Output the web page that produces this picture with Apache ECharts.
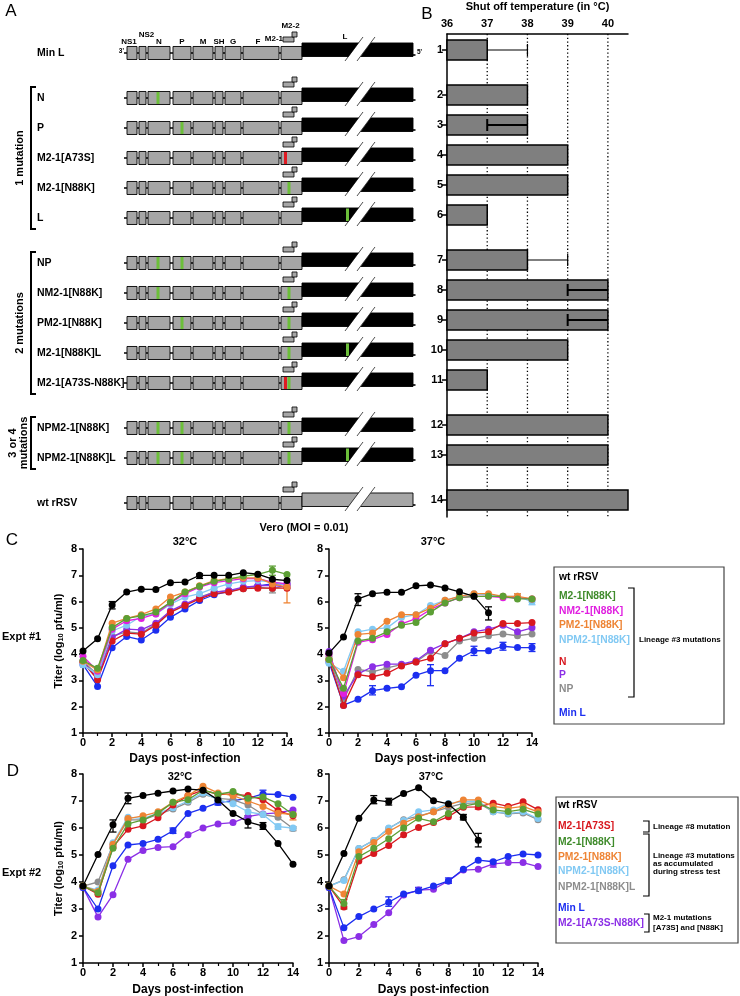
<!DOCTYPE html>
<html><head><meta charset="utf-8">
<script src="https://cdn.jsdelivr.net/npm/echarts@6/dist/echarts.min.js"></script>
<style>html,body{margin:0;padding:0;background:#fff}#c{width:740px;height:996px}</style>
</head><body><div id="c"></div>
<script>
const FF = '"Liberation Sans", Arial, Helvetica, sans-serif';

// ---------- Panel A / B data ----------
const rowNames = ['Min L','N','P','M2-1[A73S]','M2-1[N88K]','L','NP','NM2-1[N88K]','PM2-1[N88K]','M2-1[N88K]L','M2-1[A73S-N88K]','NPM2-1[N88K]','NPM2-1[N88K]L','wt rRSV'];
const rowLabels = ['1','2','3','4','5','6','7','8','9','10','11','12','13','14'];
const rowPos = [0,1.5,2.5,3.5,4.5,5.5,7,8,9,10,11,12.5,13.5,15];
const geneNames = ['NS1','NS2','N','P','M','SH','G','F','M2'];
const geneStart = [127,139,148,173,193,215,225,243,281];
const geneEnd   = [137,146,170,191,213,223,241,279,302];
const geneL = [302,413];
const lBreakAt = 345;
const m2OrfStart = [283,292];
const m2OrfEnd = [294,297];
const mutSiteNames = ['N','P','A73S','N88K','L'];
const mutSites = [158,182,285.5,289,347.5];
const rowMuts = [[],['N'],['P'],['A73S'],['N88K'],['L'],['N','P'],['N','N88K'],['P','N88K'],['N88K','L'],['A73S','N88K'],['N','P','N88K'],['N','P','N88K','L'],[]];
const shutOff = [37,38,38,39,39,37,38,40,40,39,37,40,40,40.5];
const shutOffErr = [[0,37,38],[2,38,37],[6,38,39],[7,40,39],[8,40,39]]; // row, from, to(cap)
const tempTicks = [36,37,38,39,40];
const tempGrid = [37,38,39,40];

// ---------- Panel C/D data ----------
const days = [0,1,2,3,4,5,6,7,8,9,10,11,12,13,14];
// Expt 1, 32C
const c1Wt    = [4.12,4.59,5.87,6.36,6.47,6.46,6.72,6.74,7.0,7.0,7.0,7.1,7.04,6.85,6.8];
const c1M2    = [3.76,3.46,5.01,5.36,5.46,5.6,5.97,6.36,6.58,6.77,6.85,6.97,7.03,7.19,7.03];
const c1NM2   = [3.92,3.35,4.95,5.27,5.36,5.53,5.95,6.3,6.55,6.72,6.8,6.87,6.87,6.74,6.67];
const c1PM2   = [3.73,3.4,5.18,5.36,5.5,5.72,6.17,6.36,6.6,6.8,6.87,6.9,6.9,6.67,6.55];
const c1NPM2  = [3.6,3.22,4.88,5.1,5.44,5.53,5.9,6.17,6.3,6.51,6.67,6.77,6.8,6.74,6.65];
const c1N     = [3.69,3.03,4.5,4.8,4.76,5.1,5.59,5.85,6.1,6.3,6.36,6.49,6.51,6.51,6.51];
const c1P     = [3.73,3.09,4.63,4.95,4.92,5.18,5.65,5.91,6.13,6.36,6.42,6.55,6.6,6.62,6.55];
const c1NP    = [3.73,3.22,4.69,4.85,4.8,5.14,5.62,5.87,6.17,6.36,6.42,6.49,6.55,6.49,6.62];
const c1MinL  = [3.6,2.77,4.24,4.67,4.54,4.91,5.4,5.72,6.04,6.26,6.38,6.51,6.6,6.67,6.67];
// Expt 1, 37C
const c2Wt    = [4.04,4.65,6.1,6.3,6.35,6.35,6.6,6.63,6.52,6.37,6.2,5.57];
const c2M2    = [3.8,2.7,4.5,4.6,4.85,5.1,5.2,5.6,5.95,6.15,6.2,6.2,6.2,6.1,6.1];
const c2NM2   = [4.0,2.5,4.45,4.55,4.75,5.15,5.35,5.7,5.95,6.15,6.2,6.2,6.15,6.15,6.1];
const c2PM2   = [3.8,3.1,4.75,4.8,5.25,5.5,5.5,5.75,6.05,6.2,6.3,6.3,6.2,6.2,6.1];
const c2NPM2  = [3.65,3.35,4.85,4.95,5.0,5.4,5.5,5.85,6.05,6.2,6.3,6.25,6.2,6.2,6.0];
const c2N     = [3.8,2.05,3.22,3.14,3.27,3.55,3.7,3.84,4.4,4.6,4.8,4.85,5.17,5.17,5.2];
const c2P     = [4.1,2.4,3.25,3.52,3.62,3.62,3.75,4.15,4.4,4.6,4.85,4.95,5.1,4.85,5.0];
const c2NP    = [3.9,2.25,3.42,3.33,3.48,3.6,3.7,4.1,3.95,4.5,4.6,4.7,4.77,4.7,4.77];
const c2MinL  = [3.7,2.06,2.28,2.61,2.7,2.76,3.2,3.37,3.37,3.84,4.13,4.13,4.3,4.25,4.25];
// Expt 2, 32C
const d1Wt    = [3.85,5.02,6.12,7.1,7.2,7.29,7.37,7.44,7.4,7.04,6.54,6.23,6.07,5.43,4.66];
const d1A73S  = [3.85,3.55,5.3,5.95,6.08,6.38,6.85,7.2,7.4,7.25,7.25,7.2,7.05,6.65,6.45];
const d1M2    = [3.85,3.6,5.25,6.15,6.3,6.55,6.95,7.05,7.4,7.25,7.35,7.1,7.15,6.9,6.5];
const d1PM2   = [3.85,3.65,5.4,6.35,6.45,6.6,6.95,7.2,7.55,7.3,7.2,7.0,6.8,6.55,6.5];
const d1NPM2  = [3.85,3.7,5.45,6.4,6.35,6.55,6.75,7.0,7.3,7.05,6.9,6.6,6.5,6.05,6.0];
const d1NPM2L = [3.85,4.0,5.4,6.3,6.3,6.5,6.7,6.95,7.25,7.1,7.05,6.85,6.5,6.4,5.98];
const d1MinL  = [3.8,3.0,4.6,5.37,5.43,5.58,5.9,6.54,6.73,6.94,7.01,7.1,7.26,7.24,7.14];
const d1AN    = [3.8,2.7,3.53,4.84,5.17,5.28,5.31,5.75,6.0,6.15,6.2,6.42,6.52,6.56,6.67];
// Expt 2, 37C
const d2Wt    = [3.85,5.06,6.36,7.04,6.97,7.28,7.49,7.01,6.89,6.4,5.55];
const d2A73S  = [3.85,3.07,4.78,5.06,5.35,5.75,6.02,6.2,6.42,6.77,6.78,6.92,6.8,6.97,6.68];
const d2M2    = [3.85,3.2,4.94,5.25,5.6,6.0,6.36,6.23,6.54,6.81,6.91,6.67,6.61,6.69,6.52];
const d2PM2   = [3.85,3.56,5.12,5.46,5.87,6.18,6.42,6.6,6.86,7.04,7.04,6.8,6.73,6.8,6.6];
const d2NPM2  = [3.85,4.06,5.24,5.54,6.0,6.28,6.6,6.67,6.91,6.98,7.0,6.6,6.54,6.6,6.35];
const d2NPM2L = [3.85,4.08,5.24,5.54,5.98,6.31,6.44,6.6,6.76,6.91,6.93,6.6,6.52,6.56,6.31];
const d2MinL  = [3.8,2.31,2.72,3.0,3.25,3.56,3.68,3.85,4.04,4.47,4.81,4.75,4.94,5.04,5.0];
const d2AN    = [3.8,1.83,1.98,2.43,2.86,3.52,3.7,3.73,4.04,4.44,4.47,4.67,4.72,4.72,4.57];
// error bars: [colourKey, day, low, high]
const errC1 = [['wt',2,5.72,6.0],['wt',8,6.88,7.05],['green',13,7.0,7.35],['orange',14,5.95,6.62],['gray',13,6.33,6.6]];
const errC2 = [['wt',2,5.85,6.3],['wt',11,5.3,5.8],['blue',3,2.45,2.8],['blue',7,2.8,3.6],['blue',10,3.95,4.3],['blue',12,4.15,4.45],['blue',14,4.1,4.4],['orange',7,5.65,5.85],['lblue',14,5.88,6.1],['orange',13,6.1,6.3]];
const errD1 = [['wt',2,5.85,6.3],['wt',3,6.9,7.3],['wt',11,6.0,6.45],['wt',12,5.95,6.2],['blue',12,7.1,7.4],['blue',9,6.85,7.02],['blue',6,5.8,6.0],['lblue',13,5.95,6.15],['orange',14,6.3,6.55],['gray',14,5.9,6.05]];
const errD2 = [['wt',3,6.9,7.2],['wt',4,6.85,7.1],['wt',9,6.3,6.5],['wt',10,5.3,5.8],['green',1,3.0,3.35],['blue',4,3.1,3.45],['blue',6,3.6,3.8],['blue',8,3.95,4.15],['purple',11,4.55,4.8],['red',10,6.7,6.9]];

// ---------- colours ----------
const COL = {wt:'#000000', green:'#5c9f35', magenta:'#e01fe0', orange:'#ee8434', lblue:'#82c9f3', red:'#d8181f', purple:'#8b2fe6', gray:'#8d8d8d', blue:'#1c2ef0'};
const colKeys = Object.keys(COL);
const GENE_FILL = '#a6a6a6', BAR_FILL = '#7f7f7f', MUT_GREEN = '#6cbf3a', MUT_RED = '#df1a22';

const seriesC1 = [['Min L','blue',c1MinL],['NP','gray',c1NP],['P','purple',c1P],['N','red',c1N],['NPM2-1[N88K]','lblue',c1NPM2],['NM2-1[N88K]','magenta',c1NM2],['PM2-1[N88K]','orange',c1PM2],['M2-1[N88K]','green',c1M2],['wt rRSV','wt',c1Wt]];
const seriesC2 = [['Min L','blue',c2MinL],['NP','gray',c2NP],['P','purple',c2P],['N','red',c2N],['NPM2-1[N88K]','lblue',c2NPM2],['NM2-1[N88K]','magenta',c2NM2],['PM2-1[N88K]','orange',c2PM2],['M2-1[N88K]','green',c2M2],['wt rRSV','wt',c2Wt]];
const seriesD1 = [['M2-1[A73S-N88K]','purple',d1AN],['Min L','blue',d1MinL],['NPM2-1[N88K]L','gray',d1NPM2L],['NPM2-1[N88K]','lblue',d1NPM2],['M2-1[A73S]','red',d1A73S],['PM2-1[N88K]','orange',d1PM2],['M2-1[N88K]','green',d1M2],['wt rRSV','wt',d1Wt]];
const seriesD2 = [['M2-1[A73S-N88K]','purple',d2AN],['Min L','blue',d2MinL],['NPM2-1[N88K]L','gray',d2NPM2L],['NPM2-1[N88K]','lblue',d2NPM2],['M2-1[A73S]','red',d2A73S],['PM2-1[N88K]','orange',d2PM2],['M2-1[N88K]','green',d2M2],['wt rRSV','wt',d2Wt]];

const legendC = [['wt rRSV','wt'],['M2-1[N88K]','green'],['NM2-1[N88K]','magenta'],['PM2-1[N88K]','orange'],['NPM2-1[N88K]','lblue'],['N','red'],['P','purple'],['NP','gray'],['Min L','blue']];
const legendD = [['wt rRSV','wt'],['M2-1[A73S]','red'],['M2-1[N88K]','green'],['PM2-1[N88K]','orange'],['NPM2-1[N88K]','lblue'],['NPM2-1[N88K]L','gray'],['Min L','blue'],['M2-1[A73S-N88K]','purple']];
const legendTextCol = {green:'#3f8b2b'};

// ---------- layout ----------
const AB = {top:34, height:483, min:-0.5333, max:15.5667};
const rowY = p => AB.top + (p - AB.min) / (AB.max - AB.min) * AB.height;
const gridsTS = [
  {left:83, top:549, width:204, height:184},
  {left:329, top:549, width:203, height:184},
  {left:83, top:774, width:210, height:189},
  {left:329, top:774, width:209, height:189}
];

// ---------- renderers ----------
function renderGene(params, api) {
  const pos = api.value(1), r = api.value(2);
  const X = v => api.coord([v, pos])[0];
  const yc = api.coord([geneStart[0], pos])[1];
  const gy = yc + 3;
  const ch = [];
  const isWt = rowNames[r] === 'wt rRSV';
  ch.push({type:'line', shape:{x1:X(geneStart[0]-3), y1:gy, x2:X(geneL[0]), y2:gy}, style:{stroke:'#000', lineWidth:1.6}});
  ch.push({type:'line', shape:{x1:X(geneL[1]-1), y1:yc+5, x2:X(geneL[1]+2.5), y2:yc+5}, style:{stroke:'#000', lineWidth:1.6}});
  for (let i = 0; i < geneNames.length; i++) {
    ch.push({type:'rect', shape:{x:X(geneStart[i]), y:gy-6.5, width:X(geneEnd[i])-X(geneStart[i]), height:13}, style:{fill:GENE_FILL, stroke:'#000', lineWidth:0.9}});
  }
  ch.push({type:'rect', shape:{x:X(m2OrfStart[0]), y:yc-13, width:X(m2OrfEnd[0])-X(m2OrfStart[0]), height:5}, style:{fill:GENE_FILL, stroke:'#000', lineWidth:0.8}});
  ch.push({type:'rect', shape:{x:X(m2OrfStart[1]), y:yc-18, width:X(m2OrfEnd[1])-X(m2OrfStart[1]), height:5}, style:{fill:GENE_FILL, stroke:'#000', lineWidth:0.8}});
  ch.push({type:'rect', shape:{x:X(geneL[0]), y:yc-7, width:X(geneL[1])-X(geneL[0]), height:13.5}, style:{fill:isWt?GENE_FILL:'#000', stroke:'#000', lineWidth:0.9}});
  rowMuts[r].forEach(m => {
    const s = mutSites[mutSiteNames.indexOf(m)];
    const inL = m === 'L';
    ch.push({type:'rect', shape:{x:X(s)-1.5, y:inL?yc-6.5:gy-6, width:3, height:inL?12.5:12}, style:{fill: m==='A73S'?MUT_RED:MUT_GREEN}});
  });
  const b = X(lBreakAt), k = 0.75;
  ch.push({type:'polygon', shape:{points:[[b+5*k-0.8, yc+7.5],[b+12+5*k-0.8, yc+7.5],[b+12+18*k+0.8, yc-8],[b+18*k+0.8, yc-8]]}, style:{fill:'#fff'}});
  ch.push({type:'line', shape:{x1:b, y1:yc+11, x2:b+24*k, y2:yc-13}, style:{stroke:'#000', lineWidth:0.7}});
  ch.push({type:'line', shape:{x1:b+12, y1:yc+11, x2:b+12+24*k, y2:yc-13}, style:{stroke:'#000', lineWidth:0.7}});
  ch.push({type:'text', style:{text:rowNames[r], x:37, y:gy, fill:'#000', font:'bold 10.5px '+FF, verticalAlign:'middle', align:'left'}});
  if (r === 0) {
    const lf = 'bold 8px '+FF;
    const lab = (t, x, y, al) => ch.push({type:'text', style:{text:t, x, y, fill:'#000', font:lf, align:al||'center', verticalAlign:'middle'}});
    for (let i = 0; i < geneNames.length - 1; i++) {
      const cx = (X(geneStart[i]) + X(geneEnd[i])) / 2;
      const dx = geneNames[i]==='NS1' ? -3 : geneNames[i]==='NS2' ? 4 : geneNames[i]==='F' ? -3 : 0;
      lab(geneNames[i], cx + dx, geneNames[i]==='NS2' ? yc-15 : yc-8);
    }
    lab('M2-1', X(m2OrfStart[0]), yc-11, 'right');
    lab('M2-2', (X(m2OrfStart[1])+X(m2OrfEnd[1]))/2 - 4, yc-24);
    lab('L', X(lBreakAt), yc-13);
    ch.push({type:'text', style:{text:"3'", x:X(geneStart[0])-3, y:yc+1, fill:'#000', font:'bold 6.5px '+FF, align:'right', verticalAlign:'middle'}});
    ch.push({type:'text', style:{text:"5'", x:X(geneL[1])+4, y:yc+2, fill:'#000', font:'bold 6.5px '+FF, align:'left', verticalAlign:'middle'}});
  }
  return {type:'group', children:ch};
}

function renderBar(params, api) {
  const pos = api.value(0), val = api.value(1);
  const a = api.coord([tempTicks[0], pos]), b = api.coord([val, pos]);
  return {type:'rect', shape:{x:a[0], y:a[1]-10, width:b[0]-a[0], height:20}, style:{fill:BAR_FILL, stroke:'#000', lineWidth:1.5}};
}
function renderBarErr(params, api) {
  const pos = api.value(0), from = api.value(1), to = api.value(2);
  const a = api.coord([from, pos]), b = api.coord([to, pos]);
  const inside = to < from;
  const lw = inside ? 2 : 1.2;
  return {type:'group', children:[
    {type:'line', shape:{x1:a[0], y1:a[1], x2:b[0], y2:b[1]}, style:{stroke:'#000', lineWidth:lw}},
    {type:'line', shape:{x1:b[0], y1:b[1]-6, x2:b[0], y2:b[1]+6}, style:{stroke:'#000', lineWidth:lw}}
  ]};
}
function renderVGrid(params, api) {
  const t = api.value(0);
  const p1 = api.coord([t, AB.min]), p2 = api.coord([t, AB.max]);
  return {type:'line', shape:{x1:p1[0], y1:p1[1], x2:p2[0], y2:p2[1]}, style:{stroke:'#000', lineWidth:1.3, lineDash:[1.3,2.4]}};
}
function renderErr(params, api) {
  const x = api.value(0), lo = api.value(1), hi = api.value(2), c = COL[colKeys[api.value(3)]];
  const p1 = api.coord([x, lo]), p2 = api.coord([x, hi]), w = 3.5;
  const st = {stroke:c, lineWidth:1.3};
  return {type:'group', children:[
    {type:'line', shape:{x1:p1[0], y1:p1[1], x2:p2[0], y2:p2[1]}, style:st},
    {type:'line', shape:{x1:p1[0]-w, y1:p1[1], x2:p1[0]+w, y2:p1[1]}, style:st},
    {type:'line', shape:{x1:p2[0]-w, y1:p2[1], x2:p2[0]+w, y2:p2[1]}, style:st}
  ]};
}

// ---------- axes ----------
const axisLineBlack = {show:true, onZero:false, lineStyle:{color:'#000', width:1.5}};
const labBold = {color:'#000', fontWeight:'bold', fontSize:11, fontFamily:FF};
const grids = [
  {left:110, top:AB.top, width:310, height:AB.height},
  {left:447, top:AB.top, width:181, height:AB.height}
].concat(gridsTS).map(g => Object.assign({containLabel:false, outerBoundsMode:'none'}, g));

const xAxes = [
  {gridIndex:0, type:'value', min:110, max:420, show:false},
  {gridIndex:1, type:'value', position:'top', min:36, max:40.5,
   axisLine:axisLineBlack, axisTick:{show:false}, splitLine:{show:false},
   axisLabel:Object.assign({customValues:tempTicks, margin:5}, labBold),
   name:'Shut off temperature (in °C)', nameLocation:'middle', nameGap:22,
   nameTextStyle:{color:'#000', fontWeight:'bold', fontSize:11, fontFamily:FF}}
];
const yAxes = [
  {gridIndex:0, type:'value', inverse:true, min:AB.min, max:AB.max, show:false},
  {gridIndex:1, type:'value', inverse:true, min:AB.min, max:AB.max,
   axisLine:axisLineBlack, splitLine:{show:false},
   axisTick:{show:true, customValues:rowPos, length:5, lineStyle:{color:'#000', width:1.5}},
   axisLabel:Object.assign({customValues:rowPos, margin:4, formatter: v => rowLabels[rowPos.indexOf(v)] || ''}, labBold)}
];
gridsTS.forEach((g, i) => {
  const gi = i + 2;
  xAxes.push({gridIndex:gi, type:'value', min:0, max:14, interval:2,
    axisLine:axisLineBlack, splitLine:{show:false},
    axisTick:{show:true, length:4, lineStyle:{color:'#000', width:1.5}},
    minorTick:{show:true, splitNumber:2, length:3, lineStyle:{color:'#000', width:1.2}},
    axisLabel:Object.assign({margin:4}, labBold),
    name:'Days post-infection', nameLocation:'middle', nameGap: i < 2 ? 20 : 21,
    nameTextStyle:{color:'#000', fontWeight:'bold', fontSize:12, fontFamily:FF}});
  const ya = {gridIndex:gi, type:'value', min:1, max:8, interval:1,
    axisLine:axisLineBlack, splitLine:{show:false},
    axisTick:{show:true, length:4, lineStyle:{color:'#000', width:1.5}},
    axisLabel:Object.assign({margin:6}, labBold)};
  if (i % 2 === 0) {
    ya.name = 'Titer (log{s|10} pfu/ml)';
    ya.nameLocation = 'middle'; ya.nameGap = 18; ya.nameRotate = 90;
    ya.nameTextStyle = {color:'#000', fontWeight:'bold', fontSize:11, fontFamily:FF,
      rich:{s:{fontSize:7.5, fontWeight:'bold', fontFamily:FF, color:'#000', padding:[5,0,0,0]}}};
  }
  yAxes.push(ya);
});

// ---------- series ----------
const series = [];
series.push({type:'custom', xAxisIndex:1, yAxisIndex:1, renderItem:renderVGrid, data:tempGrid.map(t => [t, 0]), encode:{x:0, y:1}, z:1, silent:true});
series.push({type:'custom', xAxisIndex:0, yAxisIndex:0, renderItem:renderGene, data:rowPos.map((p, i) => [geneStart[0], p, i]), encode:{x:0, y:1}, z:2, silent:true});
series.push({type:'custom', xAxisIndex:1, yAxisIndex:1, renderItem:renderBar, data:shutOff.map((v, i) => [rowPos[i], v]), encode:{x:1, y:0}, z:3, silent:true});
series.push({type:'custom', xAxisIndex:1, yAxisIndex:1, renderItem:renderBarErr, data:shutOffErr.map(e => [rowPos[e[0]], e[1], e[2]]), encode:{x:[1,2], y:0}, z:4, silent:true});

[[seriesC1, errC1], [seriesC2, errC2], [seriesD1, errD1], [seriesD2, errD2]].forEach(([lst, err], i) => {
  const gi = i + 2;
  series.push({type:'custom', xAxisIndex:gi, yAxisIndex:gi, renderItem:renderErr, data:err.map(e => [e[1], e[2], e[3], colKeys.indexOf(e[0])]), encode:{x:0, y:[1,2]}, z:3, silent:true});
  lst.forEach(([name, ck, arr], j) => {
    series.push({type:'line', name, xAxisIndex:gi, yAxisIndex:gi, data:arr.map((v, d) => [days[d], v]),
      symbol:'circle', symbolSize:7, showSymbol:true, lineStyle:{color:COL[ck], width:1.3}, itemStyle:{color:COL[ck]},
      z:4 + j * 0.1, silent:true});
  });
});

// ---------- graphics ----------
const gfx = [];
const txt = (t, x, y, font, fill, align, va, extra) => gfx.push(Object.assign({type:'text', style:{text:t, x, y, font, fill:fill||'#000', align:align||'left', verticalAlign:va||'middle'}}, extra||{}));
const bracket = (x, y1, y2, tick, lw, dir) => gfx.push({type:'polyline', shape:{points:[[x+dir*tick, y1],[x, y1],[x, y2],[x+dir*tick, y2]]}, style:{stroke:'#000', lineWidth:lw, fill:null}});
txt('A', 11, 11, '17px '+FF, '#000', 'center');
txt('B', 427, 14, '17px '+FF, '#000', 'center');
txt('C', 12, 540, '17px '+FF, '#000', 'center');
txt('D', 13, 771, '17px '+FF, '#000', 'center');
const groups = [[1,5,['1 mutation']],[6,10,['2 mutations']],[11,12,['3 or 4','mutations']]];
groups.forEach(([a, b, lines]) => {
  const y1 = rowY(rowPos[a]) + 3 - 11, y2 = rowY(rowPos[b]) + 3 + 11;
  bracket(31, y1, y2, 5, 2, 1);
  const cy = (y1 + y2) / 2;
  lines.forEach((l, k) => {
    const x = lines.length === 1 ? 20 : (k === 0 ? 13 : 24);
    gfx.push({type:'text', x, y:cy, rotation:Math.PI/2, style:{text:l, x:0, y:0, font:'bold 11px '+FF, fill:'#000', align:'center', verticalAlign:'middle'}});
  });
});
txt('Vero (MOI = 0.01)', 304, 528, 'bold 11px '+FF, '#000', 'center');
txt('32°C', 185, 542, 'bold 11px '+FF, '#000', 'center');
txt('37°C', 433, 542, 'bold 11px '+FF, '#000', 'center');
txt('32°C', 180, 777, 'bold 11px '+FF, '#000', 'center');
txt('37°C', 431, 777, 'bold 11px '+FF, '#000', 'center');
txt('Expt #1', 2, 637, 'bold 11px '+FF);
txt('Expt #2', 2, 873, 'bold 11px '+FF);
gfx.push({type:'rect', shape:{x:554, y:567, width:170, height:157}, style:{fill:'#fff', stroke:'#444', lineWidth:1.2}});
const legCY = [577,596,611,625,640,662,675,689,713];
legendC.forEach(([n, ck], i) => txt(n, 559, legCY[i], 'bold 10.3px '+FF, legendTextCol[ck] || COL[ck]));
bracket(634, 588, 697, 6, 1.2, -1);
txt('Lineage #3 mutations', 639, 640, 'bold 8px '+FF);
gfx.push({type:'rect', shape:{x:556, y:797, width:182, height:146}, style:{fill:'#fff', stroke:'#444', lineWidth:1.2}});
const legDY = [805,826,842,857,871,887,908,923];
legendD.forEach(([n, ck], i) => txt(n, 558, legDY[i], 'bold 10.3px '+FF, legendTextCol[ck] || COL[ck]));
bracket(649, 821, 832, 6, 1.2, -1);
txt('Lineage #8 mutation', 653, 827, 'bold 8px '+FF);
bracket(649, 834, 896, 6, 1.2, -1);
txt('Lineage #3 mutations', 653, 856, 'bold 8px '+FF);
txt('as accumulated', 653, 864, 'bold 8px '+FF);
txt('during stress test', 653, 872, 'bold 8px '+FF);
bracket(649, 914, 932, 5, 1.2, -1);
txt('M2-1 mutations', 653, 918, 'bold 8px '+FF);
txt('[A73S] and [N88K]', 653, 928, 'bold 8px '+FF);

const chart = echarts.init(document.getElementById('c'), null, {renderer:'canvas'});
chart.setOption({
  animation:false,
  backgroundColor:'#fff',
  grid:grids, xAxis:xAxes, yAxis:yAxes, series,
  graphic:{elements:gfx}
});
</script></body></html>
